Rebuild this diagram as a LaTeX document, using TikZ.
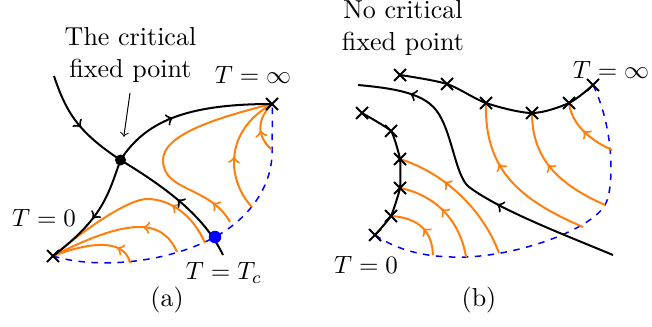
\documentclass[tikz,border=0pt]{standalone}
\usetikzlibrary{shapes.misc}
\definecolor{flow}{RGB}{255,127,14}
\begin{document}
\begin{tikzpicture}[x=0.4pt,y=-0.4pt,
  font=\fontsize{10.4}{12.8}\selectfont,
  curve/.style={line width=0.8pt,black},
  oflow/.style={line width=0.8pt,flow},
  bnd/.style={line width=0.6pt,blue,dash pattern=on 2.6pt off 2.6pt},
  ktip/.style={line width=0.8pt,black,-to},
  otip/.style={line width=0.8pt,flow,-to},
  xmark/.style={cross out,draw,line width=0.8pt,minimum size=4pt,inner sep=0pt},
  fp/.style={circle,fill=black,minimum size=4.4pt,inner sep=0pt},
  tcdot/.style={circle,fill=blue,minimum size=5pt,inner sep=0pt},
  lbl/.style={inner sep=1pt}]
\useasboundingbox (0,0) rectangle (652,326);

% ---------- panel (a) ----------
\coordinate (a0) at (53,256);
\coordinate (ainf) at (272,104);
\coordinate (acp) at (120.5,160);
\coordinate (atc) at (215,237);
\coordinate (am1) at (163,160);
\coordinate (am4) at (147,199);
\coordinate (ad2) at (272,150);

\draw[bnd] (a0) .. controls (95,269) and (165,264) .. (atc)
                .. controls (250,218) and (273,185) .. (ad2)
                .. controls (272,135) and (273,115) .. (ainf);

\draw[oflow] (230,222) .. controls (210,186) and (163,192) .. coordinate[pos=0.2] (o1a) coordinate[pos=0.23] (o1b) (am1)
                       .. controls (163,135) and (215,118) .. (ainf);
\draw[oflow] (252,207) .. controls (228,182) and (222,132) .. coordinate[pos=0.47] (o2a) coordinate[pos=0.5] (o2b) (ainf);
\draw[oflow] (ad2) .. controls (255,135) and (258,118) .. coordinate[pos=0.38] (o3a) coordinate[pos=0.42] (o3b) (ainf);
\draw[oflow] (205,243) .. controls (193,215) and (170,199) .. coordinate[pos=0.6] (o4a) coordinate[pos=0.63] (o4b) (am4)
                       .. controls (130,199) and (90,225) .. (a0);
\draw[oflow] (177,252) .. controls (162,218) and (128,218) .. coordinate[pos=0.42] (o5a) coordinate[pos=0.45] (o5b) (a0);
\draw[oflow] (130,263) .. controls (126,243) and (100,238) .. coordinate[pos=0.32] (o6a) coordinate[pos=0.36] (o6b) (a0);
\foreach \i in {1,...,6} \draw[otip] (o\i a) -- (o\i b);

\draw[curve] (54,76) .. controls (66,112) and (78,132) .. coordinate[pos=0.55] (k1a) coordinate[pos=0.58] (k1b) (acp);
\draw[curve] (acp) .. controls (145,122) and (185,104) .. coordinate[pos=0.47] (k2a) coordinate[pos=0.5] (k2b) (ainf);
\draw[curve] (acp) .. controls (108,195) and (103,218) .. coordinate[pos=0.6] (k3a) coordinate[pos=0.63] (k3b) (a0);
\draw[curve] (223,255) .. controls (206,220) and (175,193) .. coordinate[pos=0.55] (k4a) coordinate[pos=0.58] (k4b) (acp);
\foreach \i in {1,...,4} \draw[ktip] (k\i a) -- (k\i b);

\node[xmark] (xa0) at (a0) {};
\node[xmark] (xainf) at (ainf) {};
\node[fp] (cp) at (acp) {};
\node[tcdot] (tc) at (atc) {};

\node[lbl,align=center] (critlbl) at (130.5,55) {The critical\\fixed point};
\coordinate (arrS) at (130,93);
\draw[->,line width=0.4pt,shorten >=7pt] (arrS) -- (cp);
\node[lbl] (ainflbl) at (253,75) {$T=\infty$};
\node[lbl] (a0lbl) at (44,218) {$T=0$};
\node[lbl] (tclbl) at (224,273) {$T=T_c$};
\node[lbl] (capa) at (167,300) {(a)};

% ---------- panel (b) ----------
\coordinate (t1) at (400,75);
\coordinate (t2) at (447,84);
\coordinate (t3) at (486,103);
\coordinate (t4) at (532,113);
\coordinate (t5) at (569,103);
\coordinate (t6) at (593,85);
\coordinate (l1) at (362,113);
\coordinate (l2) at (391,131);
\coordinate (l3) at (400,159);
\coordinate (l4) at (400,188);
\coordinate (l5) at (391,216);
\coordinate (l6) at (375,235);
\coordinate (bd1) at (466,257);
\coordinate (bd2) at (605,205);
\coordinate (bm1) at (469,187);
\coordinate (bm2) at (436,110);

\draw[bnd] (l6) .. controls (400,252) and (430,258) .. (bd1)
                .. controls (520,255) and (590,230) .. (bd2)
                .. controls (614,190) and (615,130) .. (t6);

\draw[oflow] (433,255) .. controls (432,232) and (420,218) .. coordinate[pos=0.45] (p1a) coordinate[pos=0.48] (p1b) (l5);
\draw[oflow] (bd1) .. controls (460,220) and (435,195) .. coordinate[pos=0.5] (p2a) coordinate[pos=0.53] (p2b) (l4);
\draw[oflow] (499,253) .. controls (485,215) and (450,175) .. coordinate[pos=0.64] (p3a) coordinate[pos=0.67] (p3b) (l3);
\draw[oflow] (583,227) .. controls (520,200) and (484,170) .. coordinate[pos=0.6] (p4a) coordinate[pos=0.63] (p4b) (t3);
\draw[oflow] (bd2) .. controls (560,185) and (532,160) .. coordinate[pos=0.52] (p5a) coordinate[pos=0.55] (p5b) (t4);
\draw[oflow] (612,150) .. controls (590,140) and (572,125) .. coordinate[pos=0.46] (p6a) coordinate[pos=0.5] (p6b) (t5);
\foreach \i in {1,...,6} \draw[otip] (p\i a) -- (p\i b);

\draw[curve] plot[smooth,tension=0.5] coordinates {(t1) (t2) (t3) (t4) (t5) (t6)};
\draw[curve] plot[smooth,tension=0.25] coordinates {(l1) (l2) (l3) (l4) (l5) (l6)};
\draw[curve] (613,255) .. controls (560,233) and (500,210) .. coordinate[pos=0.72] (m1a) coordinate[pos=0.75] (m1b) (bm1)
                       .. controls (455,176) and (452,130) .. (bm2)
                       .. controls (422,92) and (390,88) .. coordinate[pos=0.38] (m2a) coordinate[pos=0.42] (m2b) (358,85);
\foreach \i in {1,2} \draw[ktip] (m\i a) -- (m\i b);

\foreach \p in {t1,t2,t3,t4,t5,t6,l1,l2,l3,l4,l5,l6}
  \node[xmark] (x\p) at (\p) {};

\node[lbl,align=center] (nocrit) at (403,28) {No critical\\fixed point};
\node[lbl] (binflbl) at (611,70) {$T=\infty$};
\node[lbl] (b0lbl) at (366,265) {$T=0$};
\node[lbl] (capb) at (479,300) {(b)};
\end{tikzpicture}
\end{document}
